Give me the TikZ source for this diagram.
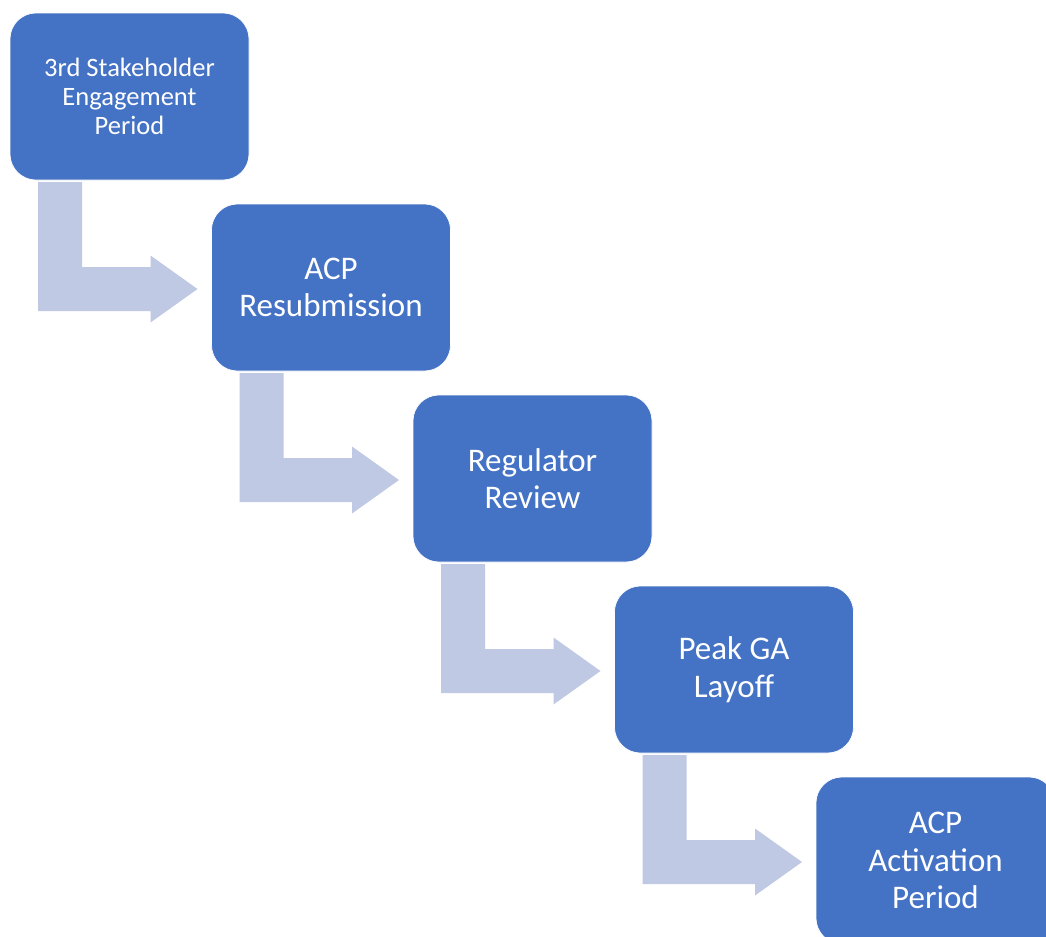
\documentclass[tikz,border=0pt]{standalone}
\usepackage{fontspec}
\setmainfont{Carlito}
\usetikzlibrary{calc}
\definecolor{boxblue}{RGB}{68,114,196}
\definecolor{arrowgray}{RGB}{191,201,228}
\tikzset{
  stagebox/.style={fill=boxblue, draw=white, line width=0.5pt, rounded corners=19.5pt,
    minimum width=179.25pt, minimum height=125.25pt, inner sep=0pt, outer sep=0pt,
    text=white, align=center, font=\fontsize{24.75}{28.1}\selectfont},
  smalltext/.style={font=\fontsize{19.9}{21.8}\selectfont},
  bentarrow/.style={fill=arrowgray, draw=none}
}
\begin{document}
\begin{tikzpicture}[x=0.75pt, y=-0.75pt]
\useasboundingbox (0,0) rectangle (1046,936);
\clip (0,0) rectangle (1046,936);
\fill[white] (0,0) rectangle (1046,936);

\node[stagebox, smalltext] (b0) at (129.5,96.5) {3rd Stakeholder\\Engagement\\Period};
\node[stagebox] (b1) at (331,287.5) {ACP\\Resubmission};
\node[stagebox] (b2) at (532.5,478.5) {Regulator\\Review};
\node[stagebox] (b3) at (734,669.5) {Peak GA\\Layoff};
\node[stagebox] (b4) at (935.5,860.5) {ACP\\Activation\\Period};

\foreach \a/\b in {b0/b1, b1/b2, b2/b3, b3/b4}{
  \coordinate (s) at ($(\a.south west)+(28,2)$);
  \coordinate (t) at ($(\b.west)+(-14,1.5)$);
  \path[bentarrow] (s) -- ++(44,0) |- ($(t)+(-47,-22)$) -- ++(0,-11.5) -- (t)
    -- ++(-47,33.5) -- ++(0,-11.5) -| (s) -- cycle;
}
\end{tikzpicture}
\end{document}
